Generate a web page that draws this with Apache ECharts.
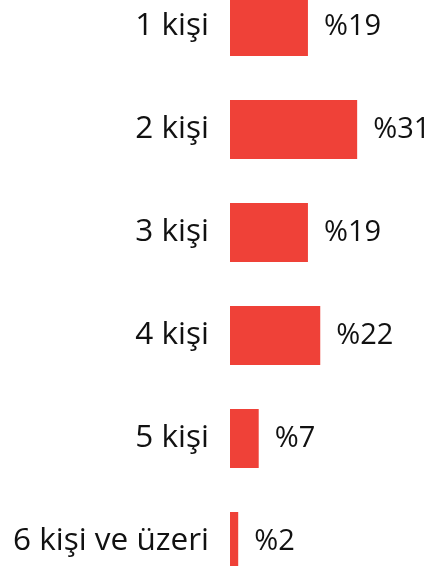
<!DOCTYPE html>
<html>
<head>
<meta charset="utf-8">
<script src="https://cdn.jsdelivr.net/npm/echarts@6/dist/echarts.min.js"></script>
<style>
html,body{margin:0;padding:0;width:431px;height:566px;overflow:hidden;background:#fff;}
#c{position:absolute;left:0;top:-25px;width:431px;height:618px;}
</style>
</head>
<body>
<div id="c"></div>
<script>
const categories = ["1 kişi", "2 kişi", "3 kişi", "4 kişi", "5 kişi", "6 kişi ve üzeri"];
const values = [19, 31, 19, 22, 7, 2];

const chart = echarts.init(document.getElementById('c'), null, {renderer: 'canvas'});
chart.setOption({
  animation: false,
  grid: {left: 230, right: 0, top: 0, bottom: 0, containLabel: false},
  xAxis: {type: 'value', min: 0, max: 49, show: false},
  yAxis: {
    type: 'category', data: categories, inverse: true,
    axisLine: {show: false}, axisTick: {show: false}, splitLine: {show: false},
    axisLabel: {fontFamily: 'Open Sans', fontSize: 31.5, color: '#111', margin: 21}
  },
  series: [{
    type: 'bar', data: values, barWidth: 59,
    itemStyle: {color: '#ef4138'},
    label: {show: true, position: 'right', distance: 16, formatter: p => '%' + p.value,
      fontFamily: 'Open Sans', fontSize: 29, color: '#111'}
  }]
});
</script>
</body>
</html>
